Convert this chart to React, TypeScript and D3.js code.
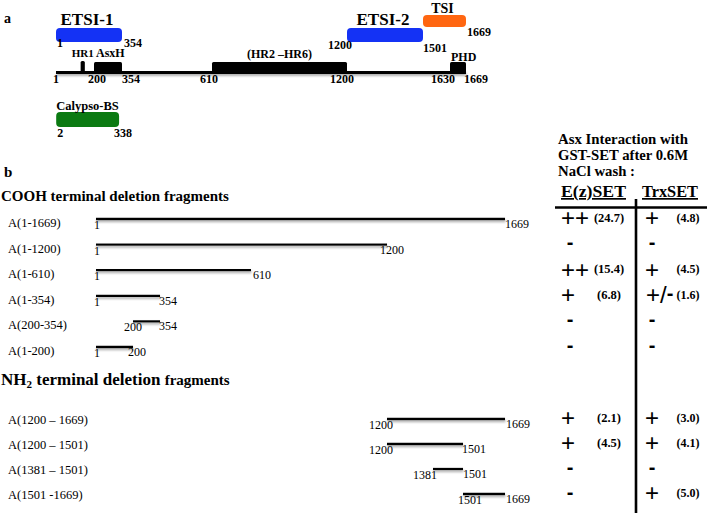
import React from "react";
import * as d3 from "d3";

const SERIF = "'Liberation Serif','Times New Roman',Times,serif";
const SANS = "'Liberation Sans',Arial,sans-serif";

// ---------- Panel a: Asx protein map ----------
const mapKnots = [1, 200, 354, 610, 1200, 1501, 1630, 1669];
const domainNames = ["HR1", "AsxH", "(HR2 –HR6)", "PHD"];
const domainStart = [130, 200, 610, 1630];
const domainEnd = [152, 354, 1200, 1669];
const mapTicks = [1, 200, 354, 610, 1200, 1630, 1669];
const regionNames = ["ETSI-1", "ETSI-2", "TSI", "Calypso-BS"];
const regionStart = [1, 1200, 1501, 2];
const regionEnd = [354, 1501, 1669, 338];

// ---------- Panel b: deletion fragments ----------
const fragKnots = [1, 200, 354, 610, 1200, 1381, 1501, 1669];
const coohLabels = ["A(1-1669)", "A(1-1200)", "A(1-610)", "A(1-354)", "A(200-354)", "A(1-200)"];
const coohStart = [1, 1, 1, 1, 200, 1];
const coohEnd = [1669, 1200, 610, 354, 354, 200];
const nh2Labels = ["A(1200 – 1669)", "A(1200 – 1501)", "A(1381 – 1501)", "A(1501 -1669)"];
const nh2Start = [1200, 1200, 1381, 1501];
const nh2End = [1669, 1501, 1501, 1669];
const ezSymbols = ["++", "-", "++", "+", "-", "-", "+", "+", "-", "-"];
const ezValues = [24.7, null, 15.4, 6.8, null, null, 2.1, 4.5, null, null];
const trxSymbols = ["+", "-", "+", "+/-", "-", "-", "+", "+", "-", "+"];
const trxValues = [4.8, null, 4.5, 1.6, null, null, 3.0, 4.1, null, 5.0];

// ---------- layout / style ----------
const mapPixels = [56, 94, 122, 212, 347, 423, 450, 466];
const fragPixels = [96, 133, 160, 251, 387, 433, 463, 505];
const regionColors = ["#1432f5", "#1432f5", "#ff6611", "#0b7a12"];
const regionBox = [
  { y: 28, h: 14, ly: 25, lsize: 17, startLab: { dx: 1, y: 47, anchor: "start" }, endLab: { dx: 2, y: 47 } },
  { y: 28, h: 14, ly: 25, lsize: 17, startLab: { dx: 5, y: 49, anchor: "end" }, endLab: { dx: 0, y: 52 } },
  { y: 15, h: 12, ly: 13, lsize: 14, startLab: null, endLab: { dx: 1, y: 36 } },
  { y: 112, h: 15, ly: 110, lsize: 12.5, startLab: { dx: 1, y: 137, anchor: "start" }, endLab: { dx: -5, y: 137 } },
];
const tickNudge = [-3, 3, 0, -3, -5, -7, -2];
const tickAnchor = ["start", "middle", "start", "middle", "middle", "middle", "start"];
const domainLab = [
  { dx: 0, y: 57, anchor: "middle", size: 11 },
  { dx: 2, y: 57, anchor: "start", size: 12 },
  { dx: 0, y: 58, anchor: "middle", size: 12 },
  { dx: 1, y: 61, anchor: "start", size: 12 },
];
const startNudge = [-2, -2, -2, -2, -9, -2, 6, 6, 4, 19];
const endNudge = [0, -7, 2, -1, -1, -5, 1, -1, 0, 1];

function Sym({ s, x, cy, col }: { s: string; x: number; cy: number; col: "ez" | "trx" }) {
  if (s === "-") {
    return (
      <text x={col === "ez" ? 570 : 652} y={cy + 5.5} fontFamily={SANS} fontWeight="bold" fontSize={20} textAnchor="middle">
        -
      </text>
    );
  }
  if (s === "+/-") {
    return (
      <text x={x - 6} y={cy + 8.4} fontFamily={SANS} fontSize={24} textAnchor="start">
        +/<tspan fontWeight="bold" fontSize={20} dy={-3}>-</tspan>
      </text>
    );
  }
  return (
    <text x={x} y={cy + 8.4} fontFamily={SANS} fontSize={24} textAnchor={col === "ez" ? "start" : "middle"}>
      {s}
    </text>
  );
}

export default function App() {
  const xa = d3.scaleLinear().domain(mapKnots).range(mapPixels);
  const xb = d3.scaleLinear().domain(fragKnots).range(fragPixels);
  const yCooh = d3.scalePoint<string>().domain(coohLabels).range([219, 347]);
  const yNh2 = d3.scalePoint<string>().domain(nh2Labels).range([419, 494]);

  const rows = [
    ...coohLabels.map((l, i) => ({ label: l, s: coohStart[i], e: coohEnd[i], y: yCooh(l) as number, lab: 8 })),
    ...nh2Labels.map((l, i) => ({ label: l, s: nh2Start[i], e: nh2End[i], y: yNh2(l) as number, lab: 5 })),
  ];
  const lineY = 72.5;

  return (
    <svg width={710} height={520} style={{ position: "absolute", left: 0, top: 0, background: "#fff" }} fontFamily={SERIF}>
      <defs>
        <filter id="sh" filterUnits="userSpaceOnUse" x={0} y={0} width={710} height={520}>
          <feDropShadow dx="0.5" dy="1.8" stdDeviation="0.9" floodColor="#8a8a8a" floodOpacity="0.75" />
        </filter>
      </defs>

      {/* ---------- panel a ---------- */}
      <text x={4} y={23} fontSize={14} fontWeight="bold">a</text>
      {regionNames.map((n, i) => {
        const x0 = xa(regionStart[i]);
        const x1 = xa(regionEnd[i]);
        const b = regionBox[i];
        const isCal = i === 3;
        return (
          <g key={n}>
            <rect x={x0} y={b.y} width={x1 - x0} height={b.h} rx={4} fill={regionColors[i]} />
            <text
              x={isCal ? x0 : (x0 + x1) / 2 - 2}
              y={b.ly}
              fontSize={b.lsize}
              fontWeight="bold"
              textAnchor={isCal ? "start" : "middle"}
            >
              {n}
            </text>
            {b.startLab && (
              <text x={x0 + b.startLab.dx} y={b.startLab.y} fontSize={12} fontWeight="bold" textAnchor={b.startLab.anchor as any}>
                {regionStart[i]}
              </text>
            )}
            <text x={x1 + b.endLab.dx} y={b.endLab.y} fontSize={12} fontWeight="bold">
              {regionEnd[i]}
            </text>
          </g>
        );
      })}
      <line x1={xa(1)} x2={xa(1669)} y1={lineY} y2={lineY} stroke="#000" strokeWidth={3} filter="url(#sh)" />
      {domainNames.map((n, i) => {
        const x0 = xa(domainStart[i]);
        const x1 = xa(domainEnd[i]);
        const L = domainLab[i];
        return (
          <g key={n}>
            <rect x={x0} y={i === 0 ? 61 : 62} width={x1 - x0} height={i === 0 ? 12.5 : 11.5} rx={1.5} fill="#000" />
            <text
              x={(L.anchor === "middle" ? (x0 + x1) / 2 : x0) + L.dx}
              y={L.y}
              fontSize={L.size}
              fontWeight="bold"
              textAnchor={L.anchor as any}
            >
              {n}
            </text>
          </g>
        );
      })}
      {mapTicks.map((t, i) => (
        <text key={t} x={xa(t) + tickNudge[i]} y={83} fontSize={12} fontWeight="bold" textAnchor={tickAnchor[i] as any}>
          {t}
        </text>
      ))}

      {/* ---------- panel b ---------- */}
      <text x={4} y={177} fontSize={15} fontWeight="bold">b</text>
      <text x={1} y={201} fontSize={15} fontWeight="bold">COOH terminal deletion fragments</text>
      <text x={1} y={385} fontWeight="bold">
        <tspan fontSize={17}>NH</tspan>
        <tspan fontSize={11} dy={3}>2</tspan>
        <tspan fontSize={17} dy={-3}> terminal deletion </tspan>
        <tspan fontSize={15}>fragments</tspan>
      </text>

      {rows.map((r, i) => {
        const x0 = xb(r.s);
        const x1 = xb(r.e);
        return (
          <g key={r.label}>
            <text x={8} y={r.y + r.lab} fontSize={12.5}>{r.label}</text>
            <line x1={x0} x2={x1} y1={r.y} y2={r.y} stroke="#000" strokeWidth={2.3} filter="url(#sh)" />
            <text x={x0 + startNudge[i]} y={r.y + 10} fontSize={12} textAnchor={r.s === 1 || i === 4 ? "start" : "end"}>
              {r.s}
            </text>
            <text x={x1 + endNudge[i]} y={r.y + 9} fontSize={12}>
              {r.e}
            </text>
          </g>
        );
      })}

      {/* ---------- table ---------- */}
      <g fontWeight="bold">
        <text x={558} y={144} fontSize={15} textLength={130} lengthAdjust="spacingAndGlyphs">Asx Interaction with</text>
        <text x={558} y={160} fontSize={15} textLength={130} lengthAdjust="spacingAndGlyphs">GST-SET after 0.6M</text>
        <text x={558} y={176} fontSize={15} textLength={77} lengthAdjust="spacingAndGlyphs">NaCl wash :</text>
        <text x={561} y={197} fontSize={17} textDecoration="underline" textLength={65} lengthAdjust="spacingAndGlyphs">E(z)SET</text>
        <text x={642} y={197} fontSize={17} textDecoration="underline" textLength={56} lengthAdjust="spacingAndGlyphs">TrxSET</text>
      </g>
      <line x1={555} x2={707} y1={207.5} y2={207.5} stroke="#000" strokeWidth={2.6} />
      <line x1={636} x2={636} y1={199} y2={513} stroke="#000" strokeWidth={2.6} />

      {rows.map((r, i) => {
        const cy = r.y - 1;
        return (
          <g key={"t" + i}>
            <Sym s={ezSymbols[i]} x={561} cy={cy} col="ez" />
            {ezValues[i] != null && (
              <text x={609} y={cy + 4} fontSize={12.5} fontWeight="bold" textAnchor="middle">
                ({(ezValues[i] as number).toFixed(1)})
              </text>
            )}
            <Sym s={trxSymbols[i]} x={652} cy={cy} col="trx" />
            {trxValues[i] != null && (
              <text x={688} y={cy + 4} fontSize={12} fontWeight="bold" textAnchor="middle">
                ({(trxValues[i] as number).toFixed(1)})
              </text>
            )}
          </g>
        );
      })}
    </svg>
  );
}
